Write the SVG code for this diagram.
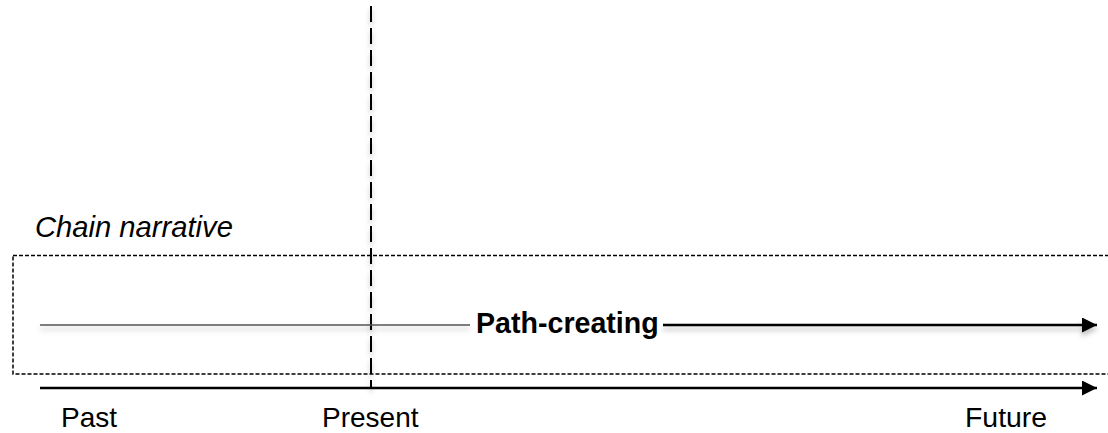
<svg xmlns="http://www.w3.org/2000/svg" width="1108" height="433" viewBox="0 0 1108 433">
<style>
.lbl{font-family:"Liberation Sans",Arial,sans-serif;font-size:28px;fill:#000}
.box{fill:none;stroke:#000;stroke-width:1.5;stroke-dasharray:4 2}
.axis{stroke:#000;stroke-width:2.5;fill:none}
</style>
<defs>
<filter id="sh" filterUnits="userSpaceOnUse" x="0" y="0" width="1108" height="433">
<feDropShadow dx="0" dy="4" stdDeviation="2.5" flood-color="#000" flood-opacity="0.25"/>
</filter>
<marker id="ah" viewBox="0 0 15 15" refX="15" refY="7.5" markerWidth="15" markerHeight="15" markerUnits="userSpaceOnUse" orient="auto">
<path d="M0,0 L15,7.5 L0,15 Z" fill="#000"/>
</marker>
</defs>
<g id="frame">
<rect id="chain-box" class="box" x="13" y="255.5" width="1105" height="118.5"/>
<text id="chain-label" class="lbl" x="35" y="237" style="font-style:italic;font-size:29.2px">Chain narrative</text>
</g>
<g id="connectors">
<line id="present-line" x1="371" y1="6" x2="371" y2="388" stroke="#000" stroke-width="2" stroke-dasharray="16 6" filter="url(#sh)"/>
<line id="path-left" x1="40" y1="325" x2="470" y2="325" stroke="#555" stroke-width="1.6" filter="url(#sh)"/>
<line id="path-right" x1="663" y1="325" x2="1097" y2="325" class="axis" marker-end="url(#ah)" filter="url(#sh)"/>
<line id="time-axis" x1="40" y1="388" x2="1097" y2="388" class="axis" marker-end="url(#ah)"/>
</g>
<g id="path-creating">
<text class="lbl" x="476" y="333" style="font-weight:bold;font-size:28.6px">Path-creating</text>
</g>
<g id="past"><text class="lbl" x="61" y="427">Past</text></g>
<g id="present"><text class="lbl" x="322" y="427">Present</text></g>
<g id="future"><text class="lbl" x="965" y="427" style="font-size:28.4px">Future</text></g>
</svg>
